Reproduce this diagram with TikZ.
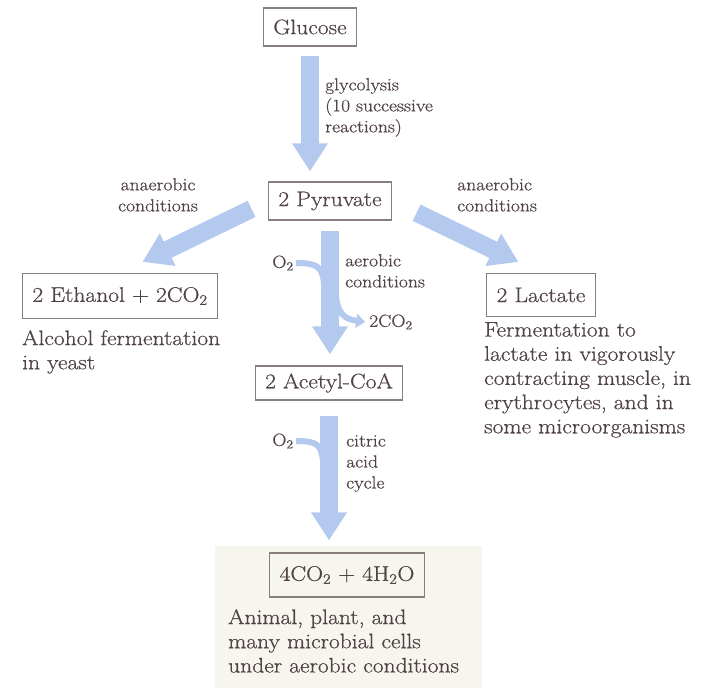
\documentclass[tikz,border=0pt]{standalone}
\usepackage{fontspec}
\setmainfont{Latin Modern Roman}[FakeStretch=1.12,FakeBold=0.6]
\usetikzlibrary{arrows.meta,calc}
\definecolor{flow}{RGB}{180,201,238}
\definecolor{ink}{RGB}{80,66,70}
\definecolor{frame}{RGB}{135,126,126}
\definecolor{paper}{RGB}{246,245,238}
\newcommand{\sbs}[1]{\textsubscript{#1}}

\begin{document}
\begin{tikzpicture}[x=1pt,y=-1pt,
  every node/.style={text=ink},
  compound/.style={draw=frame,line width=1.3pt,inner xsep=10pt,inner ysep=4pt,
    font=\fontsize{21}{24}\selectfont},
  caption/.style={align=left,font=\fontsize{21}{24.2}\selectfont,inner sep=0pt,anchor=north west},
  cond/.style={font=\fontsize{17.5}{21}\selectfont,inner sep=0pt},
  bigflow/.style={draw=flow,line width=18pt,-{Triangle[width=34pt,length=28pt]}},
  branch/.style={draw=flow,line width=6pt}]

% page frame and the shaded panel for the aerobic end product
\useasboundingbox (0,0) rectangle (702,688);
\fill[paper] (215,546) rectangle (482,688);

% compounds
\node[compound,minimum height=38pt] (glc) at (310,27) {Glucose};
\node[compound,minimum height=38pt] (pyr) at (330,201) {2 Pyruvate};
\node[compound,minimum height=45pt] (eth) at (120,296) {2 Ethanol + 2CO\sbs{2}};
\node[compound,minimum height=43pt] (lac) at (541,295) {2 Lactate};
\node[compound,minimum height=34pt] (acc) at (329,383) {2 Acetyl-CoA};
\node[compound,minimum height=44pt] (fin) at (347,575) {4CO\sbs{2} + 4H\sbs{2}O};

% small reactant / product labels
\node[cond] (o2a) at (283,263) {O\sbs{2}};
\node[cond] (co2) at (391,322) {2CO\sbs{2}};
\node[cond] (o2b) at (283,441) {O\sbs{2}};

% side branches joining and leaving the main flow
\coordinate (joinA) at (324,283);
\coordinate (leaveB) at (336,297);
\coordinate (joinC) at (323,461);
\draw[branch] ([xshift=2pt]o2a.east) .. controls (318,263) and (322,267) .. (joinA);
\draw[branch,-{Triangle[width=14pt,length=9pt]}] (leaveB) .. controls (338,313) and (344,319) .. ([xshift=-4pt]co2.west);
\draw[branch] ([xshift=2pt]o2b.east) .. controls (318,441) and (321,445) .. (joinC);

% main flow arrows
\draw[bigflow,shorten <=9pt,shorten >=10pt] (glc.south) -- (glc.south |- pyr.north);
\draw[bigflow,shorten <=18pt,shorten >=25pt] (pyr.west) -- (eth.north);
\draw[bigflow,shorten <=27pt,shorten >=25pt] (pyr.east) -- (lac.north);
\draw[bigflow,shorten <=10pt,shorten >=11pt] (pyr.south) -- (pyr.south |- acc.north);
\draw[bigflow,shorten <=15pt,shorten >=12pt] (acc.south) -- (acc.south |- fin.north);

% process conditions
\node[cond,align=left,anchor=north west] (glyc) at (325,78) {glycolysis\\(10 successive\\reactions)};
\node[cond,align=center,anchor=north] (anL) at (158,178) {anaerobic\\conditions};
\node[cond,align=left,anchor=north west] (anR) at (457,178) {anaerobic\\conditions};
\node[cond,align=left,anchor=north west] (aer) at (345,254) {aerobic\\conditions};
\node[cond,align=left,anchor=north west] (tca) at (346,435) {citric\\acid\\cycle};

% organism captions
\node[caption] (capE) at (22,330) {Alcohol fermentation\\in yeast};
\node[caption] (capL) at (484,322) {Fermentation to\\lactate in vigorously\\contracting muscle, in\\erythrocytes, and in\\some microorganisms};
\node[caption] (capF) at (228,609) {Animal, plant, and\\many microbial cells\\under aerobic conditions};
\end{tikzpicture}
\end{document}
